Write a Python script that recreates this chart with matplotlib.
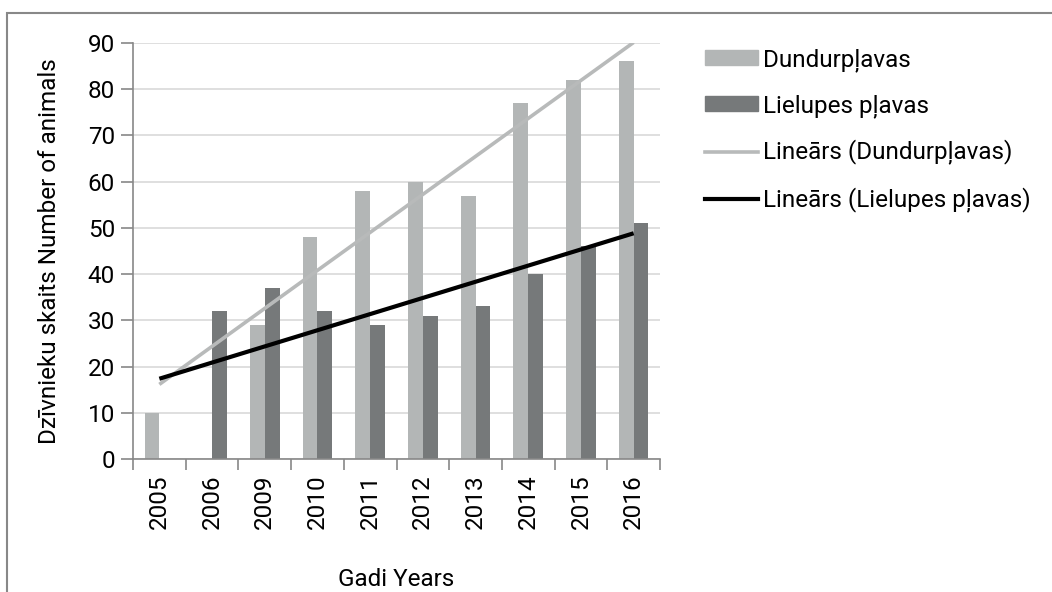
import numpy as np
import matplotlib
matplotlib.use('Agg')
import matplotlib.pyplot as plt
from matplotlib.patches import Patch, Rectangle
from matplotlib.lines import Line2D

plt.rcParams['font.family'] = ['Roboto', 'DejaVu Sans']

years = ['2005', '2006', '2009', '2010', '2011', '2012', '2013', '2014', '2015', '2016']
dundur = [10, np.nan, 29, 48, 58, 60, 57, 77, 82, 86]
lielupe = [0, 32, 37, 32, 29, 31, 33, 40, 46, 51]

c_light = '#b3b6b6'
c_dark = '#76797a'
fs = 17.5

x = np.arange(1, len(years) + 1)
d = np.array(dundur, dtype=float)
l = np.array(lielupe, dtype=float)

fig = plt.figure(figsize=(10.52, 5.92), dpi=100)
ax = fig.add_axes([133 / 1052, 1 - 459 / 592, (660 - 133) / 1052, (459 - 43) / 592])

w = 0.28
ax.bar(x - w / 2, np.nan_to_num(d), w, color=c_light, zorder=2)
ax.bar(x + w / 2, l, w, color=c_dark, zorder=2)

# linear trends (blank cell skipped, zero kept)
ok = ~np.isnan(d)
kd = np.polyfit(x[ok], d[ok], 1)
kl = np.polyfit(x, l, 1)
xt = np.array([x[0], x[-1]], dtype=float)
ax.plot(xt, np.polyval(kd, xt), color='#b8baba', lw=2.6, zorder=3, solid_capstyle='butt')
ax.plot(xt, np.polyval(kl, xt), color='black', lw=3.0, zorder=4, solid_capstyle='butt')

ax.set_xlim(0.5, len(years) + 0.5)
ax.set_ylim(0, 90)
ax.set_yticks(range(0, 91, 10))
ax.set_xticks(x)
ax.set_xticklabels(years, rotation=90, fontsize=fs)
ax.set_xticks(np.arange(0.5, len(years) + 1, 1), minor=True)
ax.tick_params(axis='x', which='major', length=0, pad=11)
ax.tick_params(axis='x', which='minor', length=8, color='#888888', width=1.2)
ax.tick_params(axis='y', length=9, color='#888888', width=1.2, labelsize=fs, pad=4)

ax.grid(axis='y', color='#d9d9d9', lw=1.2, zorder=0)
for s in ['top', 'right']:
    ax.spines[s].set_visible(False)
for s in ['left', 'bottom']:
    ax.spines[s].set_color('#888888')
    ax.spines[s].set_linewidth(1.2)

ax.set_ylabel('Dzīvnieku skaits Number of animals', fontsize=fs, labelpad=19)
ax.set_xlabel('Gadi Years', fontsize=fs, labelpad=28)

handles = [
    Patch(color=c_light),
    Patch(color=c_dark),
    Line2D([], [], color='#b8baba', lw=2.6),
    Line2D([], [], color='black', lw=3.0),
]
labels = ['Dundurpļavas', 'Lielupes pļavas', 'Lineārs (Dundurpļavas)', 'Lineārs (Lielupes pļavas)']
fig.legend(handles, labels, loc='upper left', bbox_to_anchor=(705 / 1052, 1 - 48 / 592),
           frameon=False, fontsize=fs, handlelength=2.2, handleheight=0.55,
           handletextpad=0.2, labelspacing=0.92, borderpad=0, borderaxespad=0)

# outer chart border
fig.add_artist(Rectangle((7 / 1052, -0.1), 1.2, 1.1 - 13 / 592, transform=fig.transFigure,
                         fill=False, edgecolor='#888888', lw=1.5, clip_on=False))

fig.savefig('out.png', dpi=100)
